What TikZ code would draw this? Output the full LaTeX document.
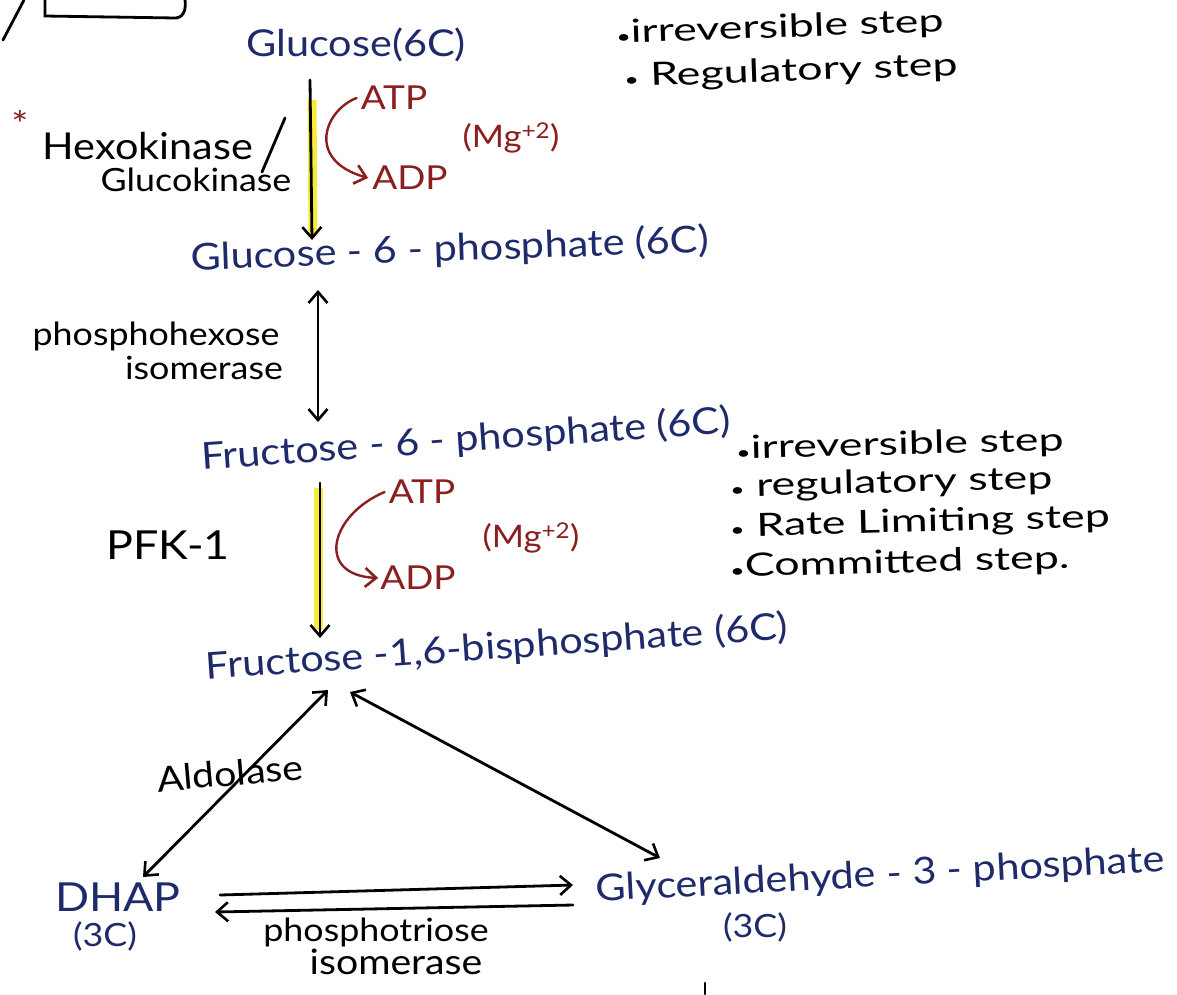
\documentclass[tikz,border=0pt]{standalone}
\usepackage{fontspec}
\setmainfont{Lato}[FakeStretch=1.12]
\newfontfamily\notefont{Lato}[FakeStretch=1.4]
\usetikzlibrary{arrows.meta}
\definecolor{molc}{HTML}{1F2A6B}
\definecolor{enzc}{HTML}{8B1E1E}
\definecolor{hlc}{HTML}{F7EC3A}
\newcommand{\dotb}{{\fontsize{18}{18}\selectfont\textbullet}}
\begin{document}
\begin{tikzpicture}[x=1pt,y=-1pt,
  mol/.style={text=molc, font=\fontsize{37}{40}\selectfont, inner sep=0pt},
  lbl/.style={text=black, inner sep=0pt},
  red/.style={text=enzc, font=\fontsize{33}{36}\selectfont, inner sep=0pt},
  note/.style={text=black, font=\notefont\fontsize{32}{35}\selectfont, inner sep=0pt, anchor=west},
  pen/.style={line width=2.8pt, line cap=round},
  tip/.style={-{Straight Barb[length=11pt,width=19pt,line width=2.6pt]}},
  both/.style={{Straight Barb[length=11pt,width=19pt,line width=2.6pt]}-{Straight Barb[length=11pt,width=19pt,line width=2.6pt]}},
  hl/.style={hlc, line width=9pt}
]
\useasboundingbox (0,0) rectangle (1177,994);

% top-left fragment of a box
\draw[pen] (24,0) -- (3,40);
\draw[pen] (45,0) -- (45,16) -- (176,18) .. controls (185,17) and (186,7) .. (185,0);

% molecules
\node[mol] (glc) at (356,45) {Glucose(6C)};
\node[mol, rotate=2] (g6p) at (450,250) {Glucose - 6 - phosphate (6C)};
\node[mol, rotate=4] (f6p) at (466,440) {Fructose - 6 - phosphate (6C)};
\node[mol, rotate=4] (fbp) at (497,648) {Fructose -1,6-bisphosphate (6C)};
\node[mol, font=\fontsize{40}{44}\selectfont] (dhap) at (118,897) {DHAP};
\node[mol, font=\fontsize{32}{36}\selectfont] (dhapc) at (105,936) {(3C)};
\node[mol, rotate=3] (gap) at (880,876) {Glyceraldehyde - 3 - phosphate};
\node[mol, font=\fontsize{32}{36}\selectfont] (gapc) at (755,927) {(3C)};

% enzymes / labels
\node[lbl, text=enzc, font=\fontsize{36}{36}\selectfont] (star) at (20,124) {*};
\node[lbl, font=\fontsize{37}{40}\selectfont] (hexo) at (148,146) {Hexokinase};
\node[lbl, font=\fontsize{32}{36}\selectfont] (gluco) at (196,180) {Glucokinase};
\draw[pen] (285,118) -- (262,172);
\node[lbl, font=\fontsize{32}{36}\selectfont] (phx) at (156,336) {phosphohexose};
\node[lbl, font=\fontsize{32}{36}\selectfont] (iso1) at (204,368) {isomerase};
\node[lbl, font=\fontsize{40}{44}\selectfont] (pfk) at (168,545) {PFK-1};
\node[lbl, font=\fontsize{35}{38}\selectfont, rotate=5] (ald) at (230,773) {Aldolase};
\node[lbl, font=\fontsize{32}{36}\selectfont] (ptri) at (376,932) {phosphotriose};
\node[lbl, font=\fontsize{35}{38}\selectfont] (iso2) at (396,962) {isomerase};

% cofactors
\node[red] (atp1) at (394,98) {ATP};
\node[red] (adp1) at (410,178) {ADP};
\node[red, font=\fontsize{31}{34}\selectfont] (mg1) at (511,138) {(Mg\textsuperscript{+2})};
\node[red] (atp2) at (422,492) {ATP};
\node[red] (adp2) at (418,578) {ADP};
\node[red, font=\fontsize{31}{34}\selectfont] (mg2) at (531,538) {(Mg\textsuperscript{+2})};

% notes
\node[note, rotate=2] (n1) at (616,34) {\dotb irreversible step};
\node[note, rotate=2] (n2) at (624,78) {\dotb\ Regulatory step};
\node[note, rotate=1.5] (n3) at (736,450) {\dotb irreversible step};
\node[note, rotate=1.5] (n4) at (730,488) {\dotb\ regulatory step};
\node[note, rotate=1.5] (n5) at (730,528) {\dotb\ Rate Limiting step};
\node[note, rotate=1.5] (n6) at (730,568) {\dotb Committed step.};

% coordinates for connectors
\coordinate (a1s) at (310,80);
\coordinate (a1e) at (312,240);
\coordinate (a2s) at (318,290);
\coordinate (a2e) at (318,422);
\coordinate (a3s) at (320,483);
\coordinate (a3e) at (320,638);
\coordinate (b1s) at (328,690);
\coordinate (b1e) at (143,877);
\coordinate (b2s) at (350,692);
\coordinate (b2e) at (660,858);
\coordinate (e1s) at (220,895);
\coordinate (e1e) at (573,885);
\coordinate (e2s) at (573,905);
\coordinate (e2e) at (215,912);

% highlights
\draw[hl] (312,100) -- (313,235);
\draw[hl] (318,488) -- (318,630);

% main arrows
\draw[pen, tip] (a1s) -- (a1e);
\draw[pen, both] (a2s) -- (a2e);
\draw[pen, tip] (a3s) -- (a3e);
\draw[pen, both] (b1s) -- (b1e);
\draw[pen, both] (b2s) -- (b2e);
\draw[pen, tip] (e1s) -- (e1e);
\draw[pen, tip] (e2s) -- (e2e);

% cofactor curves
\draw[pen, enzc, tip, line width=2.4pt] ([xshift=-4pt]atp1.west) .. controls (325,110) and (305,160) .. ([xshift=-4pt]adp1.west);
\draw[pen, enzc, tip, line width=2.4pt] ([xshift=-4pt]atp2.west) .. controls (330,515) and (315,575) .. ([xshift=-2pt]adp2.west);

% small stroke at bottom
\draw[pen] (705,983) -- (705,994);
\end{tikzpicture}
\end{document}
